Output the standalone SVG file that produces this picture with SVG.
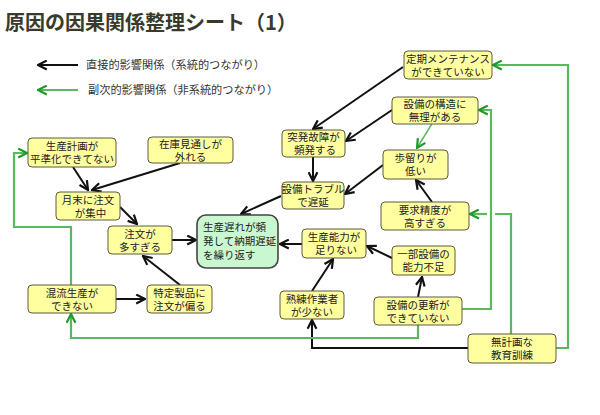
<svg xmlns="http://www.w3.org/2000/svg" width="600" height="415" viewBox="0 0 600 415">
<style>
.t{font-family:"Liberation Sans","Noto Sans CJK JP",sans-serif;font-size:10.5px;fill:#222;text-anchor:middle}
.l{font-family:"Noto Sans CJK JP","Noto Sans",sans-serif;font-size:11.2px;fill:#333}
.b{fill:#ffffa0;stroke:#5a5a40;stroke-width:1}
.m{fill:#c9f7d0;stroke:#444;stroke-width:1.6}
.k{fill:none;stroke:#111;stroke-width:2;marker-end:url(#ak)}
.g{fill:none;stroke:#5cb860;stroke-width:2.2}
.ge{marker-end:url(#ag)}
</style>
<defs>
<marker id="ak" viewBox="0 0 10 10" markerWidth="11" markerHeight="11" refX="9" refY="5" orient="auto" markerUnits="userSpaceOnUse">
<path d="M1,1 L9,5 L1,9" fill="none" stroke="#111" stroke-width="2"/>
</marker>
<marker id="ag" viewBox="0 0 10 10" markerWidth="11" markerHeight="11" refX="9" refY="5" orient="auto" markerUnits="userSpaceOnUse">
<path d="M1,1 L9,5 L1,9" fill="none" stroke="#1f9a2a" stroke-width="2"/>
</marker>
</defs>
<rect width="600" height="415" fill="#ffffff"/>
<text x="5" y="30" font-family="'Noto Sans CJK JP','Noto Sans',sans-serif" font-size="20" font-weight="bold" fill="#3a3a2a">原因の因果関係整理シート（1）</text>
<g id="legend">
<line x1="78" y1="65" x2="38" y2="65" class="k"/>
<text x="86" y="69" class="l">直接的影響関係（系統的つながり）</text>
<line x1="78" y1="90" x2="38" y2="90" class="g ge"/>
<text x="88" y="94" class="l">副次的影響関係（非系統的つながり）</text>
</g>
<g id="connectors">
<path class="k" d="M403,67 L313,129"/>
<path class="k" d="M392,110 L346,141"/>
<path class="k" d="M313,157 L313,181"/>
<path class="k" d="M383,165 L345,194"/>
<path class="k" d="M281,196 L241,214"/>
<path class="k" d="M432,202 L416,180"/>
<path class="k" d="M392,258 L367,246"/>
<path class="k" d="M302,244 L280,244"/>
<path class="k" d="M312,291 L333,259"/>
<path class="k" d="M418,297 L422,277"/>
<path class="k" d="M468,348 L312,348 L312,320"/>
<path class="k" d="M73,167 L88,190"/>
<path class="k" d="M180,163 L92,190"/>
<path class="k" d="M120,207 L137,224"/>
<path class="k" d="M172,240 L196,240"/>
<path class="k" d="M180,285 L143,256"/>
<path class="k" d="M116,299 L145,299"/>
<path class="g ge" style="stroke-width:1.5" d="M433,122 L417,148"/>
<path class="g ge" d="M556,348 H568 V65 H493"/>
<path class="g ge" d="M462,309 H491 V110 H479"/>
<path class="g" d="M511,334 V214 H495"/>
<path class="g ge" d="M487,214 H470"/>
<path class="g ge" d="M418,325 V338 H71 V314"/>
<path class="g ge" d="M71,285 V227 H14 V153 H27"/>
</g>
<g id="n_teiki"><rect class="b" x="404" y="51" width="88" height="28" rx="4"/><text class="t" x="448" y="62.5">定期メンテナンス<tspan x="448" dy="13">ができていない</tspan></text></g>
<g id="n_kozo"><rect class="b" x="392" y="97" width="86" height="27" rx="4"/><text class="t" x="435" y="108">設備の構造に<tspan x="435" dy="13">無理がある</tspan></text></g>
<g id="n_toppatsu"><rect class="b" x="282" y="130" width="63" height="27" rx="4"/><text class="t" x="313.5" y="141">突発故障が<tspan x="315" dy="13">頻発する</tspan></text></g>
<g id="n_trouble"><rect class="b" x="282" y="182" width="62" height="27" rx="4"/><text class="t" x="313" y="193">設備トラブル<tspan x="313" dy="13">で遅延</tspan></text></g>
<g id="n_main"><rect class="m" x="197" y="215" width="81" height="53" rx="9"/>
<text class="t" style="text-anchor:start" x="203" y="231">生産遅れが頻<tspan x="203" dy="14">発して納期遅延</tspan><tspan x="203" dy="14">を繰り返す</tspan></text></g>
<g id="n_noryoku"><rect class="b" x="302" y="229" width="64" height="29" rx="4"/><text class="t" x="334" y="241">生産能力が<tspan x="336" dy="13">足りない</tspan></text></g>
<g id="n_zaiko"><rect class="b" x="148" y="137" width="85" height="26" rx="4"/><text class="t" x="190.5" y="148">在庫見通しが<tspan x="190.5" dy="13">外れる</tspan></text></g>
<g id="n_keikaku"><rect class="b" x="28" y="138" width="88" height="29" rx="4"/><text class="t" x="72" y="150">生産計画が<tspan x="72" dy="13">平準化できてない</tspan></text></g>
<g id="n_getsumatsu"><rect class="b" x="56" y="192" width="64" height="28" rx="4"/><text class="t" x="88" y="203.5">月末に注文<tspan x="90.5" dy="13">が集中</tspan></text></g>
<g id="n_chumon"><rect class="b" x="108" y="226" width="64" height="28" rx="4"/><text class="t" x="140" y="237.5">注文が<tspan x="140" dy="13">多すぎる</tspan></text></g>
<g id="n_konryu"><rect class="b" x="28" y="285" width="88" height="28" rx="4"/><text class="t" x="72" y="296.5">混流生産が<tspan x="72" dy="13">できない</tspan></text></g>
<g id="n_tokutei"><rect class="b" x="147" y="285" width="65" height="28" rx="4"/><text class="t" x="179.5" y="296.5">特定製品に<tspan x="179.5" dy="13">注文が偏る</tspan></text></g>
<g id="n_budomari"><rect class="b" x="383" y="150" width="65" height="29" rx="4"/><text class="t" x="415.5" y="162">歩留りが<tspan x="415.5" dy="13">低い</tspan></text></g>
<g id="n_seido"><rect class="b" x="381" y="202" width="88" height="28" rx="4"/><text class="t" x="425" y="213.5">要求精度が<tspan x="425" dy="13">高すぎる</tspan></text></g>
<g id="n_ichibu"><rect class="b" x="392" y="246" width="63" height="29" rx="4"/><text class="t" x="423.5" y="258">一部設備の<tspan x="423.5" dy="13">能力不足</tspan></text></g>
<g id="n_jukuren"><rect class="b" x="280" y="291" width="64" height="28" rx="4"/><text class="t" x="312" y="302.5">熟練作業者<tspan x="312" dy="13">が少ない</tspan></text></g>
<g id="n_koshin"><rect class="b" x="374" y="297" width="88" height="28" rx="4"/><text class="t" x="418" y="308.5">設備の更新が<tspan x="418" dy="13">できていない</tspan></text></g>
<g id="n_kyoiku"><rect class="b" x="468" y="334" width="88" height="29" rx="4"/><text class="t" x="512" y="346">無計画な<tspan x="512" dy="13">教育訓練</tspan></text></g>
</svg>
